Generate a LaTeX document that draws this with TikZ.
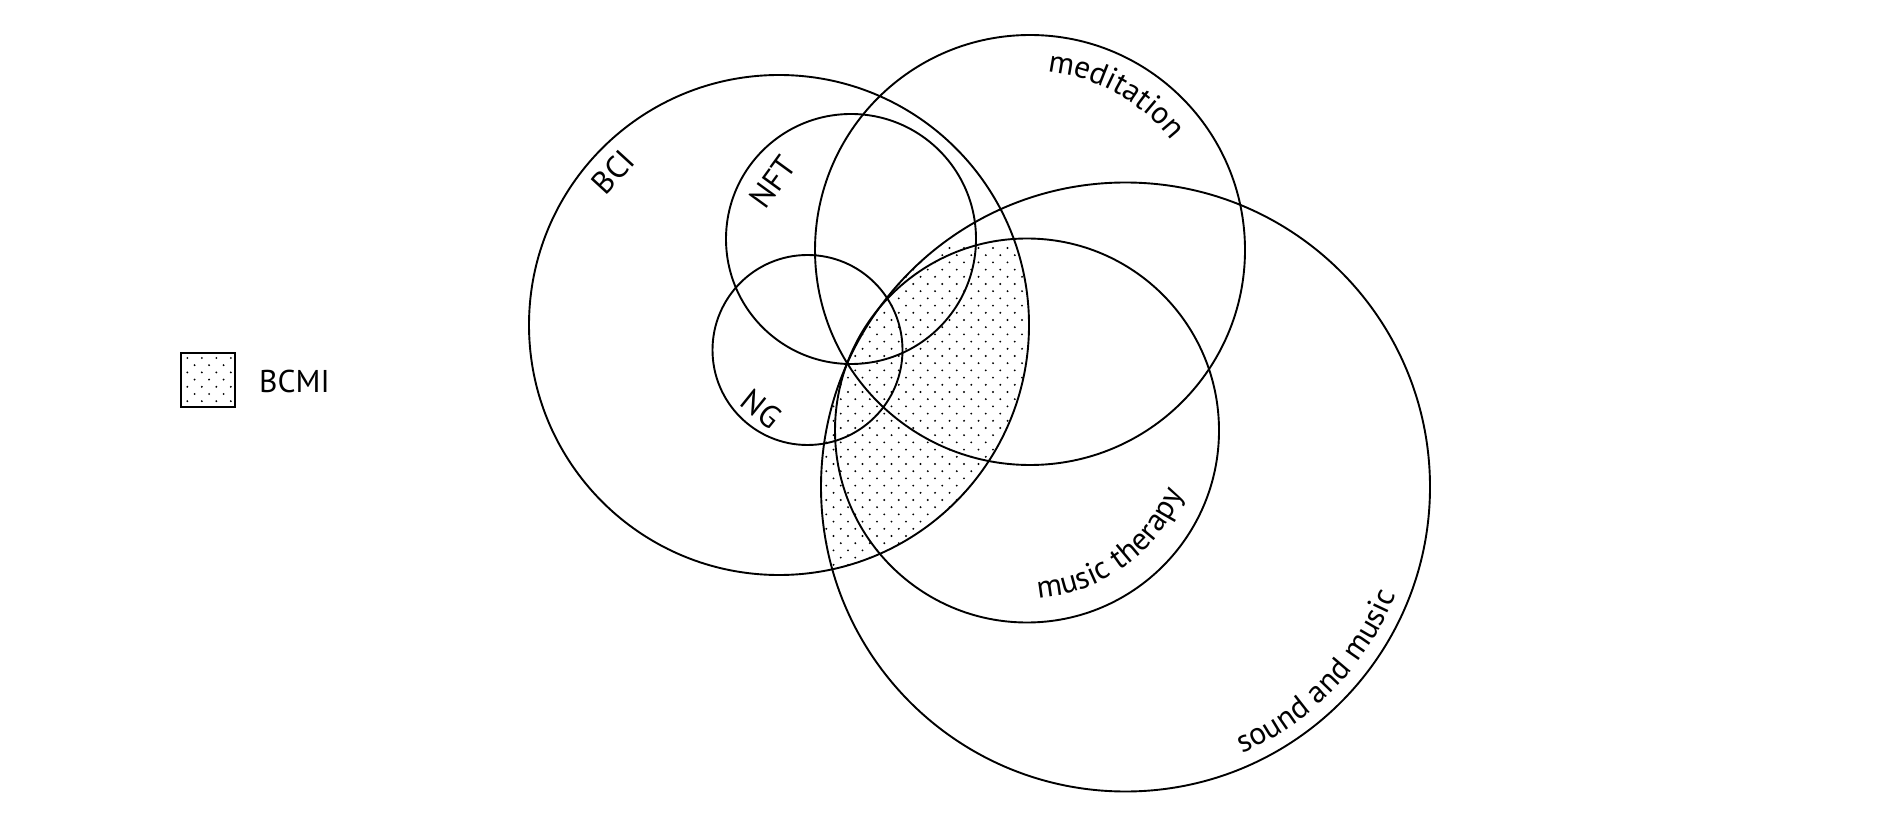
\documentclass[tikz,border=0pt]{standalone}
\usepackage{fontspec}
\setmainfont{PT Sans}
\usetikzlibrary{decorations.text}
\newcommand\lblfont{\fontsize{31.5}{37}\selectfont}
\tikzset{
  ring/.style={draw=black, line width=1.9pt},
  dotfill/.style={fill=black},
  lbl/.style={font=\lblfont, inner sep=0pt},
}
\begin{document}
\begin{tikzpicture}[x=1pt,y=1pt]
\useasboundingbox (0,0) rectangle (1894,820);
\coordinate (bci) at (779,495);
\coordinate (nft) at (851,581);
\coordinate (ng) at (807.5,470);
\coordinate (med) at (1030,570);
\coordinate (mt) at (1027,389.5);
\coordinate (sm) at (1125.5,333);
% dotted region: BCI intersect sound and music
\begin{scope}
  \clip (bci) circle (250);
  \clip (sm) circle (304.5);
  \foreach \i in {0,...,60} {
    \pgfmathsetmacro\yy{140+7.2*\i}
    \pgfmathsetmacro\off{mod(\i,2)*7.25}
    \foreach \j in {0,...,18} {
      \fill[dotfill] (790+\off+14.5*\j,\yy) circle (1.05pt);
    }
  }
\end{scope}
% circles
\draw[ring] (bci) circle (250);
\draw[ring] (nft) circle (125);
\draw[ring] (ng) circle (95);
\draw[ring] (med) circle (215);
\draw[ring] (mt) circle (192);
\draw[ring] (sm) circle (304.5);
% straight labels
\node[lbl, rotate=47.5] (lbci) at (613,648) {BCI};
\node[lbl, rotate=54] (lnft) at (773,638) {NFT};
\node[lbl, rotate=-39] (lng) at (761.5,411) {NG};
% curved labels
\path[decorate, decoration={text along path, text align=center,
  text={|\lblfont|meditation}}]
  (med) ++(105:179) arc[start angle=105, end angle=17, radius=179];
\path[decorate, decoration={text along path, text align=center,
  text={|\lblfont|music therapy}}]
  (mt) ++(-100:168) arc[start angle=-100, end angle=-8, radius=168];
\path[decorate, decoration={text along path, text align=center,
  text={|\lblfont|sound and music}}]
  (sm) ++(-80:291) arc[start angle=-80, end angle=-8, radius=291];
% legend
\begin{scope}
  \clip (181,413) rectangle (235,467);
  \foreach \i in {0,...,8} {
    \pgfmathsetmacro\yy{462-7.2*\i}
    \pgfmathsetmacro\off{mod(\i,2)*7.25}
    \foreach \j in {-1,...,4} {
      \fill[dotfill] (187.3+\off+14.5*\j,\yy) circle (1.05pt);
    }
  }
\end{scope}
\node[draw=black, line width=1.9pt, minimum width=54pt, minimum height=54pt, inner sep=0pt] (key) at (208,440) {};
\node[lbl, anchor=west] (lkey) at (259,439) {BCMI};
\end{tikzpicture}
\end{document}
